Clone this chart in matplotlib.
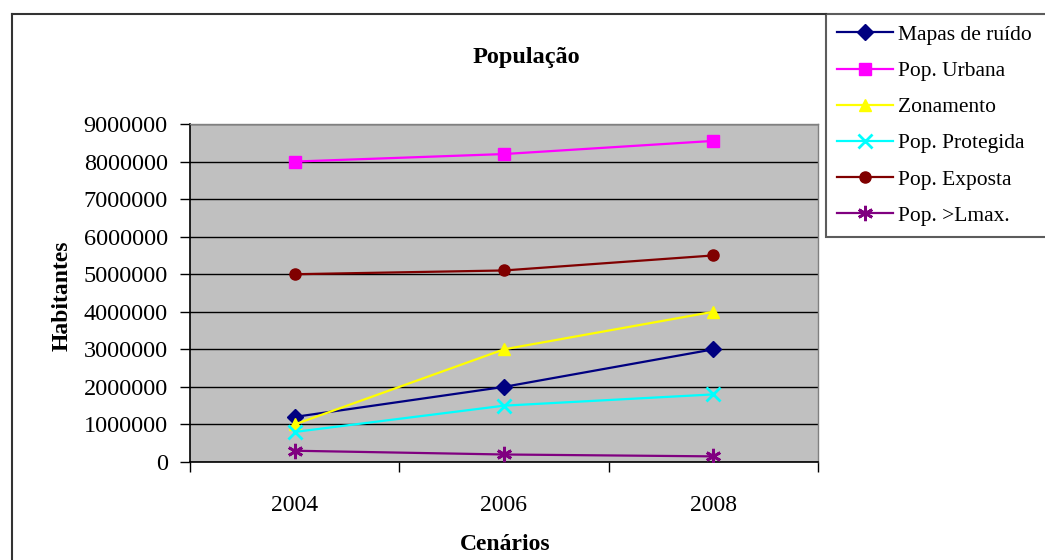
import matplotlib
matplotlib.use("Agg")
import matplotlib.pyplot as plt
from matplotlib.lines import Line2D

years = ["2004", "2006", "2008"]
mapas = [1200000, 2000000, 3000000]
urbana = [8000000, 8200000, 8550000]
zonamento = [1000000, 3000000, 4000000]
protegida = [800000, 1500000, 1800000]
exposta = [5000000, 5100000, 5500000]
lmax = [300000, 200000, 150000]

series = [
    ("Mapas de ruído", mapas, "#000080", "D", 8),
    ("Pop. Urbana", urbana, "#FF00FF", "s", 8),
    ("Zonamento", zonamento, "#FFFF00", "^", 9),
    ("Pop. Protegida", protegida, "#00FFFF", "x", 10),
    ("Pop. Exposta", exposta, "#800000", "o", 8),
    ("Pop. >Lmax.", lmax, "#800080", (6, 2, 0), 11),
]

plt.rcParams['font.family'] = ['Liberation Serif', 'DejaVu Serif']

fig = plt.figure(figsize=(10.45, 5.6), dpi=100)
W, H = 1045, 560
ax = fig.add_axes([190 / W, 1 - 462 / H, (818 - 190) / W, (462 - 124) / H])
ax.set_facecolor("#C0C0C0")

xs = list(range(len(years)))
handles = []
for name, vals, col, mk, ms in series:
    mew = 2 if mk in ("x", (6, 2, 0)) else 1
    ln, = ax.plot(xs, vals, color=col, marker=mk, markersize=ms, linewidth=1.6,
                  markeredgewidth=mew, markeredgecolor=col, markerfacecolor=col,
                  label=name, zorder=3)
    handles.append(ln)

ax.set_xlim(-0.5, 2.5)
ax.set_ylim(0, 9000000)
ax.set_yticks(range(0, 9000001, 1000000))
ax.set_yticklabels([str(v) for v in range(0, 9000001, 1000000)], fontsize=17.5)
ax.yaxis.grid(True, color="black", linewidth=1)
ax.set_axisbelow(True)
ax.set_xticks([-0.5, 0.5, 1.5, 2.5])
ax.set_xticklabels([])
ax.set_xticks(xs, minor=True)
ax.set_xticklabels(years, minor=True, fontsize=17)
ax.tick_params(axis="x", which="minor", length=0, pad=24)
ax.tick_params(axis="x", which="major", length=7, direction="out", width=1)
ax.tick_params(axis="y", length=7, direction="out", width=1, pad=9)

for s in ["top", "right"]:
    ax.spines[s].set_color("#808080")
    ax.spines[s].set_linewidth(1)
for s in ["left", "bottom"]:
    ax.spines[s].set_color("black")
    ax.spines[s].set_linewidth(1.2)

fig.text(526 / W, 1 - 57 / H, "População", fontsize=17.5, fontweight="bold",
         ha="center", va="center")
fig.text(505 / W, 1 - 545 / H, "Cenários", fontsize=17, fontweight="bold",
         ha="center", va="center")
fig.text(62 / W, 1 - 296 / H, "Habitantes", fontsize=17, fontweight="bold",
         ha="center", va="center", rotation=90)

# outer chart border (left and top)
fig.add_artist(Line2D([12 / W, 12 / W], [1 - 14 / H, 0], color="#333333", lw=1.5))
fig.add_artist(Line2D([12 / W, 826 / W], [1 - 14 / H, 1 - 14 / H], color="#333333", lw=1.5))

leg = fig.legend(handles=handles, loc="upper left", mode="expand",
                 bbox_to_anchor=(826 / W, 1 - 14 / H, 240 / W, 0), fontsize=15.5,
                 frameon=True, fancybox=False, edgecolor="#333333",
                 handlelength=2.6, handletextpad=0.25, labelspacing=0.75,
                 borderpad=0.5, borderaxespad=0)
leg.get_frame().set_linewidth(1.5)

fig.savefig("out.png", dpi=100)
